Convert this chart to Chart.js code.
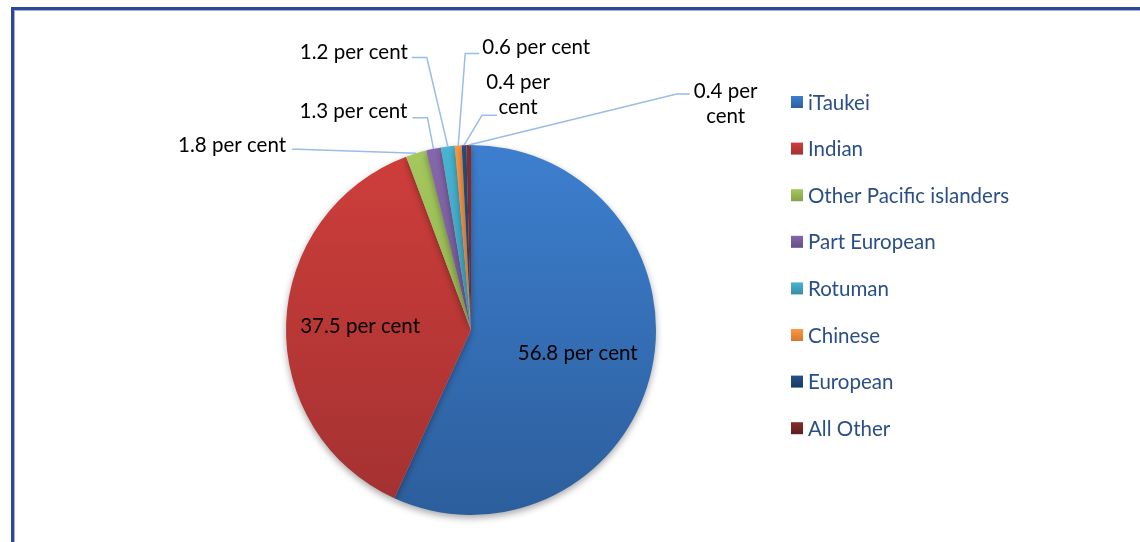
<!DOCTYPE html>
<html>
<head>
<meta charset="utf-8">
<script src="https://cdn.jsdelivr.net/npm/chart.js@4.4.1/dist/chart.umd.min.js"></script>
<style>
  html, body { margin: 0; padding: 0; background: #fff; overflow: hidden; }
  #wrap { position: relative; width: 1140px; height: 542px; }
  #frame {
    position: absolute; left: 11px; top: 7px; width: 1200px; height: 600px;
    border-left: 3px solid #2b4798; border-top: 3px solid #2b4798;
    box-shadow: inset 1px 1px 0 #9fb0dc;
  }
  canvas { position: absolute; left: 0; top: 0; }
</style>
</head>
<body>
<div id="wrap">
  <div id="frame"></div>
  <canvas id="pie" width="1140" height="542"></canvas>
</div>
<script>
// Data
const groups = ['iTaukei', 'Indian', 'Other Pacific islanders', 'Part European', 'Rotuman', 'Chinese', 'European', 'All Other'];
const shares = [56.8, 37.5, 1.8, 1.3, 1.2, 0.6, 0.4, 0.4];

// top / bottom colours of each slice gradient
const topColors = ['#3d7fcf', '#cf3e3b', '#a4c95d', '#8667ab', '#48b4d1', '#fb9742', '#25518b', '#862d2a'];
const bottomColors = ['#2c5e9c', '#a23131', '#84a149', '#644e83', '#378ca6', '#d4772d', '#1a3963', '#5d1f1d'];

// where the small labels sit, relative to the slice's outer edge (text centre, elbow, line end)
const labelLayout = [
  { inside: 0.59 },
  { inside: 0.6 },
  { text: [-184, -8], elbow: [-118, -4], end: [-124, -4] },
  { text: [-80, -37], elbow: [-6, -31], end: [-21, -31] },
  { text: [-94, -94], elbow: [-21, -89], end: [-36, -89] },
  { text: [78, -98], elbow: [7, -92], end: [21, -92] },
  { text: [54, -50], elbow: [18, -30], end: [33, -30], wrap: true },
  { text: [257, -41], elbow: [208, -51], end: [221, -51], wrap: true }
];

function sliceGradient(ctx, i, top, bottom) {
  const g = ctx.createLinearGradient(0, top, 0, bottom);
  g.addColorStop(0, topColors[i]);
  g.addColorStop(1, bottomColors[i]);
  return g;
}

const labelFont = '20.5px Lato';

// soft shadow under the pie
const shadowPlugin = {
  id: 'shadow',
  beforeDatasetsDraw(chart) {
    const c = chart.ctx;
    c.save();
    c.shadowColor = 'rgba(0,0,0,0.35)';
    c.shadowBlur = 7;
    c.shadowOffsetY = 3;
  },
  afterDatasetsDraw(chart) {
    chart.ctx.restore();
  }
};

// data labels with leader lines
const labelPlugin = {
  id: 'sliceLabels',
  afterDatasetsDraw(chart) {
    const c = chart.ctx;
    const meta = chart.getDatasetMeta(0);
    c.save();
    c.font = labelFont;
    c.fillStyle = '#000';
    c.textBaseline = 'middle';
    c.textAlign = 'center';
    meta.data.forEach((arc, i) => {
      const p = arc.getProps(['x', 'y', 'startAngle', 'endAngle', 'outerRadius'], true);
      const mid = (p.startAngle + p.endAngle) / 2;
      const txt = shares[i].toFixed(1) + ' per cent';
      const lay = labelLayout[i];
      if (lay.inside) {
        const r = p.outerRadius * lay.inside;
        c.fillText(txt, p.x + Math.cos(mid) * r, p.y + Math.sin(mid) * r);
        return;
      }
      const ex = p.x + Math.cos(mid) * p.outerRadius;
      const ey = p.y + Math.sin(mid) * p.outerRadius;
      c.strokeStyle = '#98bde6';
      c.lineWidth = 1.5;
      c.beginPath();
      c.moveTo(ex, ey);
      c.lineTo(ex + lay.elbow[0], ey + lay.elbow[1]);
      c.lineTo(ex + lay.end[0], ey + lay.end[1]);
      c.stroke();
      const tx = ex + lay.text[0], ty = ey + lay.text[1];
      if (lay.wrap) {
        const parts = txt.split(' ');
        c.fillText(parts[0] + ' ' + parts[1], tx, ty - 12.5);
        c.fillText(parts[2], tx, ty + 12.5);
      } else {
        c.fillText(txt, tx, ty);
      }
    });
    c.restore();
  }
};

// legend on the right
const legendPlugin = {
  id: 'sideLegend',
  afterDraw(chart) {
    const c = chart.ctx;
    const x = 791, y0 = 102, step = 46.6, box = 12;
    c.save();
    c.font = '20.5px Lato';
    c.textBaseline = 'middle';
    c.textAlign = 'left';
    groups.forEach((g, i) => {
      const y = y0 + i * step;
      c.fillStyle = sliceGradient(c, i, y - box / 2, y + box / 2);
      c.fillRect(x, y - box / 2, box, box);
      c.fillStyle = '#2a4f86';
      c.fillText(g, x + 17, y + 1);
    });
    c.restore();
  }
};

new Chart(document.getElementById('pie'), {
  type: 'pie',
  data: {
    labels: groups,
    datasets: [{
      data: shares,
      borderWidth: 0,
      hoverOffset: 0,
      backgroundColor: (ctx) => {
        const area = ctx.chart.chartArea;
        if (!area) return topColors[ctx.dataIndex];
        return sliceGradient(ctx.chart.ctx, ctx.dataIndex, area.top, area.bottom);
      }
    }]
  },
  options: {
    responsive: false,
    animation: false,
    events: [],
    layout: { padding: { left: 286, right: 484, top: 145, bottom: 27 } },
    plugins: {
      legend: { display: false },
      tooltip: { enabled: false }
    }
  },
  plugins: [shadowPlugin, labelPlugin, legendPlugin]
});
</script>
</body>
</html>
